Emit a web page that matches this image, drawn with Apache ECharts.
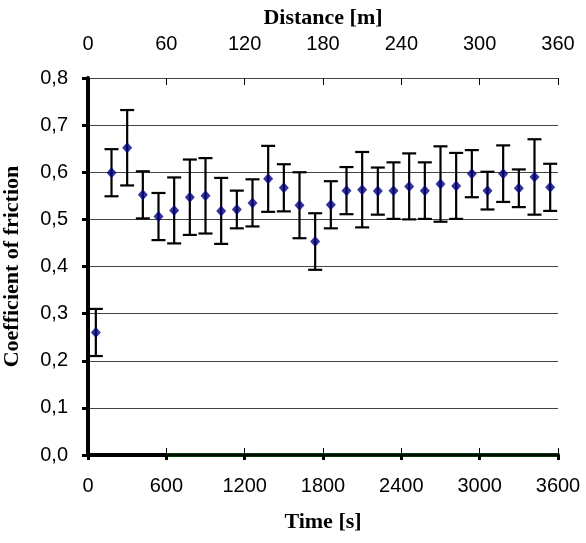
<!DOCTYPE html>
<html>
<head>
<meta charset="utf-8">
<script src="https://cdn.jsdelivr.net/npm/echarts@6/dist/echarts.min.js"></script>
<style>html,body{margin:0;padding:0;background:#fff}#c{width:586px;height:543px}</style>
</head>
<body>
<div id="c"></div>
<script>
var times = [60,180,300,420,540,660,780,900,1020,1140,1260,1380,1500,1620,1740,1860,1980,2100,2220,2340,2460,2580,2700,2820,2940,3060,3180,3300,3420,3540];
var means = [0.260,0.599,0.652,0.552,0.506,0.519,0.547,0.550,0.518,0.521,0.535,0.586,0.567,0.530,0.453,0.531,0.561,0.563,0.560,0.561,0.570,0.561,0.575,0.571,0.597,0.561,0.597,0.566,0.590,0.568];
var errs  = [0.050,0.050,0.080,0.050,0.050,0.070,0.080,0.080,0.070,0.040,0.050,0.070,0.050,0.070,0.060,0.050,0.050,0.080,0.050,0.060,0.070,0.060,0.080,0.070,0.050,0.040,0.060,0.040,0.080,0.050];
var timeTicks = [0,600,1200,1800,2400,3000,3600];
var distTicks = [0,60,120,180,240,300,360];
var yTicks = [0,0.1,0.2,0.3,0.4,0.5,0.6,0.7,0.8];

var chart = echarts.init(document.getElementById('c'));
var sans = 'Liberation Sans, Arial, sans-serif';
var serif = 'Liberation Serif, Times New Roman, serif';
var errData = times.map(function(t,i){return [t, means[i], errs[i]];});
var ptData = times.map(function(t,i){return [t, means[i]];});
var plain = function(v){return String(v);};

chart.setOption({
  animation:false,
  backgroundColor:'#fff',
  grid:{left:88,right:28,top:78,bottom:88,containLabel:false,outerBoundsMode:'none'},
  xAxis:[
    {type:'value',position:'bottom',min:timeTicks[0],max:timeTicks[timeTicks.length-1],interval:600,
     name:'Time [s]',nameLocation:'middle',nameGap:56,
     nameTextStyle:{fontFamily:serif,fontWeight:'bold',fontSize:22,color:'#000'},
     axisLine:{lineStyle:{color:'#0a3a0a',width:4}},
     axisTick:{length:5,lineStyle:{color:'#000',width:3}},
     axisLabel:{fontFamily:sans,fontSize:20,color:'#000',margin:21,formatter:plain},
     splitLine:{show:false}},
    {type:'value',position:'top',min:distTicks[0],max:distTicks[distTicks.length-1],interval:60,
     name:'Distance [m]',nameLocation:'middle',nameGap:45,
     nameTextStyle:{fontFamily:serif,fontWeight:'bold',fontSize:22,color:'#000'},
     axisLine:{lineStyle:{color:'#000',width:1.5}},
     axisTick:{length:7,lineStyle:{color:'#000',width:1}},
     axisLabel:{fontFamily:sans,fontSize:20,color:'#000',margin:24,formatter:plain},
     splitLine:{show:false}},
    {type:'value',position:'top',min:distTicks[0],max:distTicks[distTicks.length-1],interval:60,
     axisLine:{show:false},
     axisTick:{inside:true,length:7,lineStyle:{color:'#000',width:1}},
     axisLabel:{show:false},splitLine:{show:false}}
  ],
  yAxis:[
    {type:'value',position:'left',min:0,max:0.8,interval:0.1,
     name:'Coefficient of friction',nameLocation:'middle',nameGap:65,nameRotate:90,
     nameTextStyle:{fontFamily:serif,fontWeight:'bold',fontSize:22,color:'#000'},
     axisLine:{lineStyle:{color:'#000',width:4}},
     axisTick:{length:6,lineStyle:{color:'#000',width:3}},
     axisLabel:{fontFamily:sans,fontSize:20,color:'#000',margin:20,
       formatter:function(v){return v.toFixed(1).replace('.',',');}},
     splitLine:{show:true,lineStyle:{color:'#444',width:1}}},
    {type:'value',position:'right',min:0,max:0.8,interval:0.1,
     axisLine:{show:true,lineStyle:{color:'#000',width:2}},
     axisTick:{show:false},axisLabel:{show:false},splitLine:{show:false}}
  ],
  series:[
    {type:'custom',xAxisIndex:0,yAxisIndex:0,data:errData,z:3,
     renderItem:function(params,api){
       var t=api.value(0),m=api.value(1),e=api.value(2);
       var hi=api.coord([t,m+e]), lo=api.coord([t,m-e]);
       var w=7;
       var st={stroke:'#000',lineWidth:2.2};
       return {type:'group',children:[
         {type:'line',shape:{x1:hi[0],y1:hi[1],x2:lo[0],y2:lo[1]},style:st},
         {type:'line',shape:{x1:hi[0]-w,y1:hi[1],x2:hi[0]+w,y2:hi[1]},style:st},
         {type:'line',shape:{x1:lo[0]-w,y1:lo[1],x2:lo[0]+w,y2:lo[1]},style:st}
       ]};
     }},
    {type:'scatter',xAxisIndex:0,yAxisIndex:0,data:ptData,z:4,
     symbol:'diamond',symbolSize:[10,11],
     itemStyle:{color:'#000080'},
     markLine:{silent:true,symbol:'none',label:{show:false},
       lineStyle:{color:'#000',width:4,type:'solid'},
       data:[[{coord:[timeTicks[0],0]},{coord:[timeTicks[1],0]}]]}}
  ]
});
</script>
</body>
</html>
